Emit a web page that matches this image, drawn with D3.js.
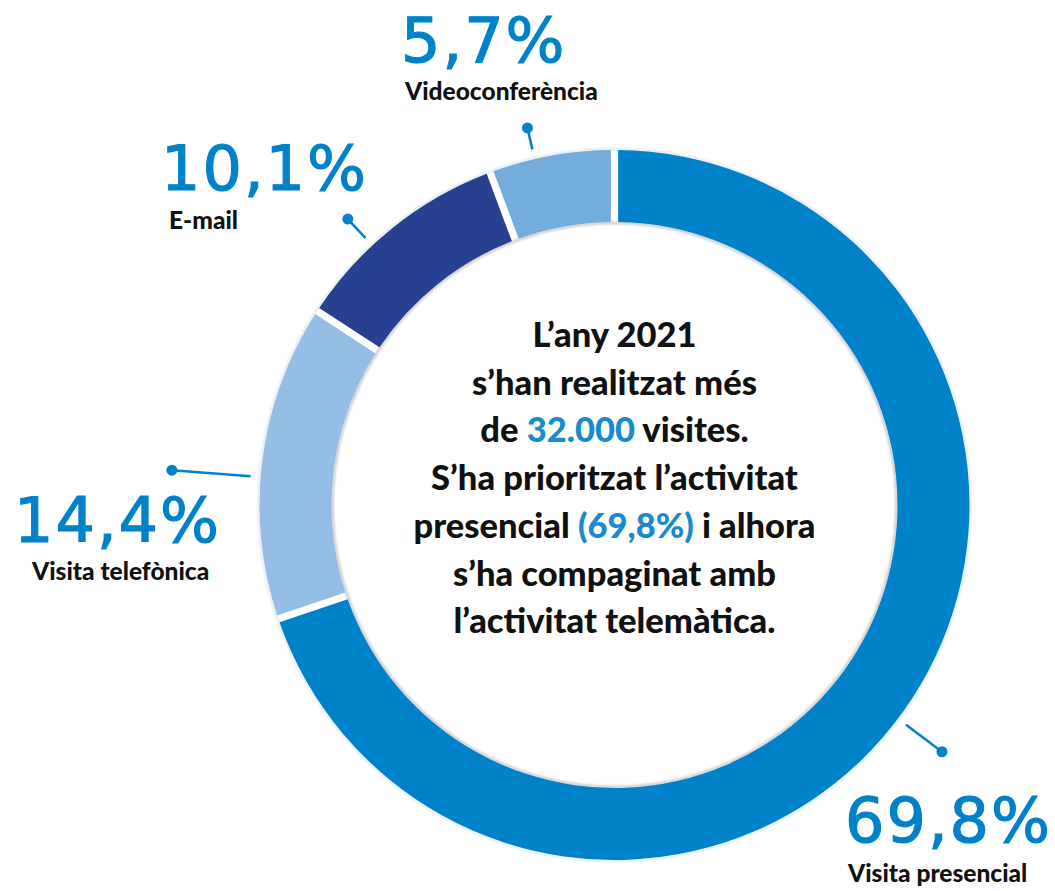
<!DOCTYPE html>
<html>
<head>
<meta charset="utf-8">
<script src="https://cdn.jsdelivr.net/npm/d3@7"></script>
<style>
  body { margin: 0; background: #fff; }
  .pct { font-family: "DejaVu Sans", sans-serif; fill: #0082ca; stroke: #0082ca; stroke-width: 1.2px; }
  .cat { font-family: Lato, "Noto Sans", sans-serif; font-weight: 900; fill: #111; }
  .center { font-family: Lato, "Noto Sans", sans-serif; font-weight: 900; fill: #111; }
</style>
</head>
<body>
<svg width="1055" height="891"></svg>
<script>
// data
var categories = ["Visita presencial", "Visita telefònica", "E-mail", "Videoconferència"];
var shares = [69.8, 14.4, 10.1, 5.7];
var pctLabels = ["69,8%", "14,4%", "10,1%", "5,7%"];
var colors = ["#0082ca", "#95bde5", "#27408f", "#74addc"];
var centerLines = [
  [["L’any 2021", 0]],
  [["s’han realitzat més", 0]],
  [["de ", 0], ["32.000", 1], [" visites.", 0]],
  [["S’ha prioritzat l’activitat", 0]],
  [["presencial ", 0], ["(69,8%)", 1], [" i alhora", 0]],
  [["s’ha compaginat amb", 0]],
  [["l’activitat telemàtica.", 0]]
];

// layout
var cx = 614.5, cy = 505, rOuter = 355, rInner = 283;
// leader line angle (deg, clockwise from top) and length, label anchor
var leaders = [
  {ang: 127, len: 410, px: 845, py: 842, lx: 848, ly: 882},
  {ang: 274.5, len: 444, px: 14, py: 542, lx: 32, ly: 580},
  {ang: 317, len: 391, px: 161, py: 190, lx: 169, ly: 229},
  {ang: 347, len: 387, px: 401, py: 62, lx: 405, ly: 100}
];

var svg = d3.select("svg");

var defs = svg.append("defs");
defs.append("filter").attr("id", "blur")
  .append("feGaussianBlur").attr("stdDeviation", 1.2);

var g = svg.append("g").attr("transform", "translate(" + cx + "," + cy + ")");

var pie = d3.pie().sort(null).value(function(d) { return d; });
var arc = d3.arc().innerRadius(rInner).outerRadius(rOuter)
  .padAngle(0.016);

var arcs = pie(shares);

// soft shadow along ring edges
g.append("circle").attr("r", rInner - 1).attr("fill", "none")
  .attr("stroke", "#c8c8c8").attr("stroke-width", 2.5).attr("filter", "url(#blur)");
g.append("circle").attr("r", rOuter + 1).attr("fill", "none")
  .attr("stroke", "#d6dde4").attr("stroke-width", 1.5).attr("filter", "url(#blur)");

g.selectAll("path.slice")
  .data(arcs)
  .enter().append("path")
  .attr("class", "slice")
  .attr("d", arc)
  .attr("fill", function(d, i) { return colors[i]; });

// leader lines
function pt(angDeg, r) {
  var a = angDeg * Math.PI / 180;
  return [r * Math.sin(a), -r * Math.cos(a)];
}
var lead = g.selectAll("g.lead").data(leaders).enter().append("g").attr("class", "lead");
lead.append("line")
  .attr("x1", function(d) { return pt(d.ang, rOuter + 10)[0]; })
  .attr("y1", function(d) { return pt(d.ang, rOuter + 10)[1]; })
  .attr("x2", function(d) { return pt(d.ang, d.len)[0]; })
  .attr("y2", function(d) { return pt(d.ang, d.len)[1]; })
  .attr("stroke", "#0082ca").attr("stroke-width", 2.5);
lead.append("circle")
  .attr("cx", function(d) { return pt(d.ang, d.len)[0]; })
  .attr("cy", function(d) { return pt(d.ang, d.len)[1]; })
  .attr("r", 5.5).attr("fill", "#0082ca");

// outer labels
svg.selectAll("text.pct").data(leaders).enter().append("text")
  .attr("class", "pct")
  .attr("x", function(d) { return d.px; })
  .attr("y", function(d) { return d.py; })
  .style("font-size", "62px")
  .style("letter-spacing", "2px")
  .text(function(d, i) { return pctLabels[i]; });

svg.selectAll("text.cat").data(leaders).enter().append("text")
  .attr("class", "cat")
  .attr("x", function(d) { return d.lx; })
  .attr("y", function(d) { return d.ly; })
  .style("font-size", "24.5px")
  .text(function(d, i) { return categories[i]; });

// center text
var ct = svg.append("text").attr("class", "center")
  .attr("text-anchor", "middle")
  .style("font-size", "34.5px");
centerLines.forEach(function(line, i) {
  var t = ct.append("tspan").attr("x", cx).attr("y", 347 + i * 47.7);
  line.forEach(function(seg) {
    t.append("tspan").text(seg[0]).attr("fill", seg[1] ? "#1a8ad0" : "#111");
  });
});
</script>
</body>
</html>
